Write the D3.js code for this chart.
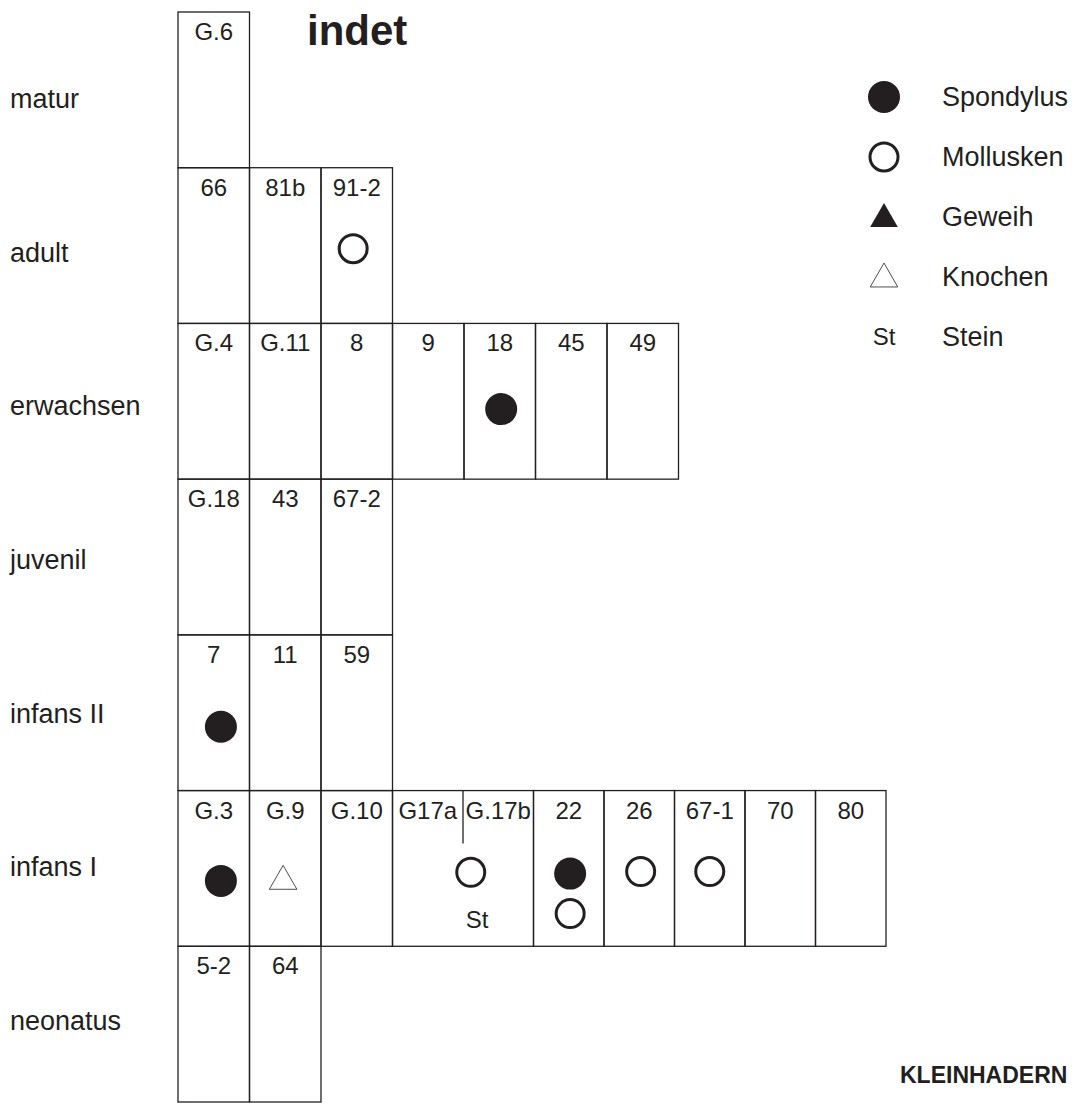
<!DOCTYPE html>
<html>
<head>
<meta charset="utf-8">
<script src="https://cdn.jsdelivr.net/npm/d3@7"></script>
<style>
  body { margin: 0; background: #fff; }
  text { font-family: "Liberation Sans", Arial, sans-serif; fill: #231f20; }
</style>
</head>
<body>
<svg id="viz"></svg>
<script>
var width = 1075;
var height = 1103;
var ink = "#231f20";

// age classes (rows)
var rows = ["matur", "adult", "erwachsen", "juvenil", "infans II", "infans I", "neonatus"];

// grave numbers per row, one per column
var matur = ["G.6"];
var adult = ["66", "81b", "91-2"];
var erwachsen = ["G.4", "G.11", "8", "9", "18", "45", "49"];
var juvenil = ["G.18", "43", "67-2"];
var infansII = ["7", "11", "59"];
var infansI = ["G.3", "G.9", "G.10", "G17a", "G.17b", "22", "26", "67-1", "70", "80"];
var neonatus = ["5-2", "64"];
var cellsByRow = [matur, adult, erwachsen, juvenil, infansII, infansI, neonatus];

// columns 3 and 4 of infans I share one box
var mergedRow = "infans I";
var mergedCols = [3, 4];

// grave goods: [row, column position (centre), vertical slot in row, type]
var marks = [
    ["adult", 2.45, 0.52, "Mollusken"],
    ["erwachsen", 4.52, 0.55, "Spondylus"],
    ["infans II", 0.6, 0.59, "Spondylus"],
    ["infans I", 0.6, 0.58, "Spondylus"],
    ["infans I", 1.47, 0.57, "Knochen"],
    ["infans I", 4.11, 0.525, "Mollusken"],
    ["infans I", 4.2, 0.88, "Stein"],
    ["infans I", 5.52, 0.533, "Spondylus"],
    ["infans I", 5.52, 0.79, "Mollusken"],
    ["infans I", 6.52, 0.52, "Mollusken"],
    ["infans I", 7.5, 0.52, "Mollusken"]
];

// legend
var legendTypes = ["Spondylus", "Mollusken", "Geweih", "Knochen", "Stein"];
var legendLabels = ["Spondylus", "Mollusken", "Geweih", "Knochen", "Stein"];

var title = "indet";
var siteName = "KLEINHADERN";

var svg = d3.select("#viz")
    .attr("width", width)
    .attr("height", height);

svg.append("rect").attr("width", width).attr("height", height).attr("fill", "#fff");

//scales
var x = d3.scaleLinear().domain([0, 10]).range([178, 893]);
// the infans I row is drawn slightly narrower right of column 3
var xI = d3.scaleLinear().domain([3, 10]).range([392.5, 886]);
var y = d3.scaleBand().domain(rows).range([12, 1102]).paddingInner(0).paddingOuter(0);
var yLabel = d3.scalePoint().domain(rows).range([108, 1030]);
var yLegend = d3.scalePoint().domain(legendTypes).range([97, 337]);

function colX(row, c) {
    if (row === mergedRow && c >= 3) return xI(c);
    return x(c);
}

// cell boxes
var grid = svg.append("g").attr("class", "grid");
rows.forEach(function (row, r) {
    var cells = cellsByRow[r];
    cells.forEach(function (label, c) {
        if (row === mergedRow && c === mergedCols[1]) return;
        var span = (row === mergedRow && c === mergedCols[0]) ? 2 : 1;
        grid.append("rect")
            .attr("x", colX(row, c))
            .attr("y", y(row))
            .attr("width", colX(row, c + span) - colX(row, c))
            .attr("height", y.bandwidth())
            .attr("fill", "none")
            .attr("stroke", ink)
            .attr("stroke-width", 1.3);
    });
    // cell labels
    grid.selectAll(null)
        .data(cells)
        .enter()
        .append("text")
        .attr("x", function (d, c) { return (colX(row, c) + colX(row, c + 1)) / 2; })
        .attr("y", y(row) + 28)
        .attr("text-anchor", "middle")
        .style("font-size", "24px")
        .text(function (d) { return d; });
});

// short divider between G17a and G.17b
grid.append("line")
    .attr("x1", colX(mergedRow, mergedCols[1]))
    .attr("x2", colX(mergedRow, mergedCols[1]))
    .attr("y1", y(mergedRow))
    .attr("y2", y(mergedRow) + y.bandwidth() * 0.34)
    .attr("stroke", ink)
    .attr("stroke-width", 1.3);

// row labels
svg.append("g").selectAll("text")
    .data(rows)
    .enter()
    .append("text")
    .attr("x", 10)
    .attr("y", function (d) { return yLabel(d); })
    .style("font-size", "27px")
    .text(function (d) { return d; });

// symbol drawing
function drawSymbol(g, type, cx, cy) {
    if (type === "Spondylus") {
        g.append("circle").attr("cx", cx).attr("cy", cy).attr("r", 16).attr("fill", ink);
    } else if (type === "Mollusken") {
        g.append("circle").attr("cx", cx).attr("cy", cy).attr("r", 14)
            .attr("fill", "none").attr("stroke", ink).attr("stroke-width", 3);
    } else if (type === "Geweih" || type === "Knochen") {
        var tri = d3.symbol().type(d3.symbolTriangle).size(330);
        g.append("path")
            .attr("d", tri())
            .attr("transform", "translate(" + cx + "," + (cy + 2) + ")")
            .attr("fill", type === "Geweih" ? ink : "#fff")
            .attr("stroke", ink)
            .attr("stroke-width", type === "Geweih" ? 0 : 0.8);
    } else if (type === "Stein") {
        g.append("text").attr("x", cx).attr("y", cy + 8)
            .attr("text-anchor", "middle")
            .style("font-size", "24px")
            .text("St");
    }
}

var markG = svg.append("g").attr("class", "marks");
marks.forEach(function (m) {
    var cx = colX(m[0], m[1]);
    var cy = y(m[0]) + y.bandwidth() * m[2];
    if (m[3] === "Stein") {
        markG.append("text").attr("x", cx).attr("y", cy)
            .attr("text-anchor", "middle")
            .style("font-size", "24px")
            .text("St");
    } else {
        drawSymbol(markG, m[3], cx, cy);
    }
});

// legend
var legend = svg.append("g").attr("class", "legend");
legendTypes.forEach(function (t, i) {
    drawSymbol(legend, t, 884, yLegend(t));
    legend.append("text")
        .attr("x", 942)
        .attr("y", yLegend(t) + 9)
        .style("font-size", "27px")
        .text(legendLabels[i]);
});

// titles
svg.append("text")
    .attr("x", 307)
    .attr("y", 45)
    .style("font-size", "42px")
    .style("font-weight", "bold")
    .text(title);

svg.append("text")
    .attr("x", 900)
    .attr("y", 1083)
    .style("font-size", "23px")
    .style("font-weight", "bold")
    .text(siteName);
</script>
</body>
</html>
